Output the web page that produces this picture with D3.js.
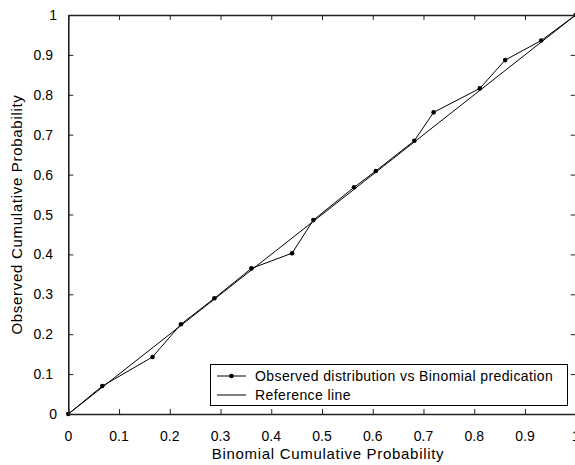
<!DOCTYPE html>
<meta charset="utf-8">
<style>
  body { margin: 0; background: #fff; }
  svg { display: block; font-family: "Liberation Sans", Arial, sans-serif; }
  .lbl { font-size: 14px; fill: #000; }
  .ttl { font-size: 15px; fill: #000; letter-spacing: 0.7px; }
  .leg { font-size: 14px; fill: #000; letter-spacing: 0.4px; }
</style>
<body>
<script src="https://d3js.org/d3.v7.min.js"></script>
<script>
// binomial cumulative probability vs observed cumulative probability
var binomProb = [0, 0.067, 0.166, 0.222, 0.288, 0.361, 0.441, 0.483, 0.563, 0.606, 0.682, 0.72, 0.811, 0.861, 0.932, 1];
var observedProb = [0, 0.07, 0.143, 0.225, 0.29, 0.365, 0.403, 0.486, 0.568, 0.609, 0.685, 0.756, 0.816, 0.887, 0.936, 1];
var refLine = [0, 1];
var tickVals = [0, 0.1, 0.2, 0.3, 0.4, 0.5, 0.6, 0.7, 0.8, 0.9, 1];
var legendNames = ["Observed distribution vs Binomial predication", "Reference line"];

var width = 575, height = 465;
// plot box edges (right edge sits just past the window, as in the original)
var pLeft = 68.3, pRight = 575.7, pTop = 15, pBottom = 414;

var svg = d3.select("body").append("svg")
    .attr("width", width)
    .attr("height", height);

var x = d3.scaleLinear().domain([0, 1]).range([pLeft, pRight]);
var y = d3.scaleLinear().domain([0, 1]).range([pBottom, pTop]);

var line = d3.line()
    .x(function(d){ return x(d[0]); })
    .y(function(d){ return y(d[1]); });

// reference line y = x
svg.append("path")
    .datum(refLine.map(function(v){ return [v, v]; }))
    .attr("d", line)
    .attr("fill", "none")
    .attr("stroke", "#000")
    .attr("stroke-width", 1);

// observed series
var pts = binomProb.map(function(v, i){ return [v, observedProb[i]]; });
svg.append("path")
    .datum(pts)
    .attr("d", line)
    .attr("fill", "none")
    .attr("stroke", "#000")
    .attr("stroke-width", 1);

svg.selectAll(".dot").data(pts).enter().append("circle")
    .attr("class", "dot")
    .attr("cx", function(d){ return x(d[0]); })
    .attr("cy", function(d){ return y(d[1]); })
    .attr("r", 2.3)
    .attr("fill", "#000");

// axes box with inward ticks on all four sides
var tk = 5;
var axisCol = "#222";
svg.append("g").attr("transform", "translate(0," + pBottom + ")")
    .call(d3.axisBottom(x).tickValues(tickVals).tickSizeInner(-tk).tickSizeOuter(0).tickFormat(""));
svg.append("g").attr("transform", "translate(0," + pTop + ")")
    .call(d3.axisTop(x).tickValues(tickVals).tickSizeInner(-tk).tickSizeOuter(0).tickFormat(""));
svg.append("g").attr("transform", "translate(" + pLeft + ",0)")
    .call(d3.axisLeft(y).tickValues(tickVals).tickSizeInner(-tk).tickSizeOuter(0).tickFormat(""));
svg.append("g").attr("transform", "translate(" + pRight + ",0)")
    .call(d3.axisRight(y).tickValues(tickVals).tickSizeInner(-tk).tickSizeOuter(0).tickFormat(""));
svg.selectAll(".domain").attr("stroke", axisCol).attr("stroke-width", 1.6);
svg.selectAll(".tick line").attr("stroke", axisCol).attr("stroke-width", 1);

var fmt = function(d){ return d === 0 || d === 1 ? String(d) : d3.format(".1f")(d); };

// tick labels
svg.selectAll(".xl").data(tickVals).enter().append("text")
    .attr("class", "lbl")
    .attr("x", function(d){ return x(d); })
    .attr("y", 441)
    .attr("text-anchor", "middle")
    .text(fmt);

svg.selectAll(".yl").data(tickVals).enter().append("text")
    .attr("class", "lbl")
    .attr("x", function(d){ return d === 0 || d === 1 ? 57 : 53; })
    .attr("y", function(d){ return y(d) + 5; })
    .attr("text-anchor", "end")
    .text(fmt);

// axis titles
svg.append("text").attr("class", "ttl")
    .attr("x", 328).attr("y", 459)
    .attr("text-anchor", "middle")
    .text("Binomial Cumulative Probability");

svg.append("text").attr("class", "ttl")
    .attr("transform", "translate(22," + ((pTop + pBottom) / 2) + ") rotate(-90)")
    .attr("text-anchor", "middle")
    .text("Observed Cumulative Probability");

// legend
var lg = svg.append("g");
lg.append("rect")
    .attr("x", 210.5).attr("y", 364.5)
    .attr("width", 357).attr("height", 41)
    .attr("fill", "#fff")
    .attr("stroke", "#000")
    .attr("stroke-width", 1);

legendNames.forEach(function(name, i){
  var ly = 376 + i * 19;
  lg.append("line")
      .attr("x1", 217).attr("x2", 246)
      .attr("y1", ly).attr("y2", ly)
      .attr("stroke", "#000");
  if (i === 0) {
    lg.append("circle").attr("cx", 231.5).attr("cy", ly).attr("r", 2.3).attr("fill", "#000");
  }
  lg.append("text").attr("class", "leg")
      .attr("x", 255).attr("y", ly + 5)
      .text(name);
});
</script>
</body>
